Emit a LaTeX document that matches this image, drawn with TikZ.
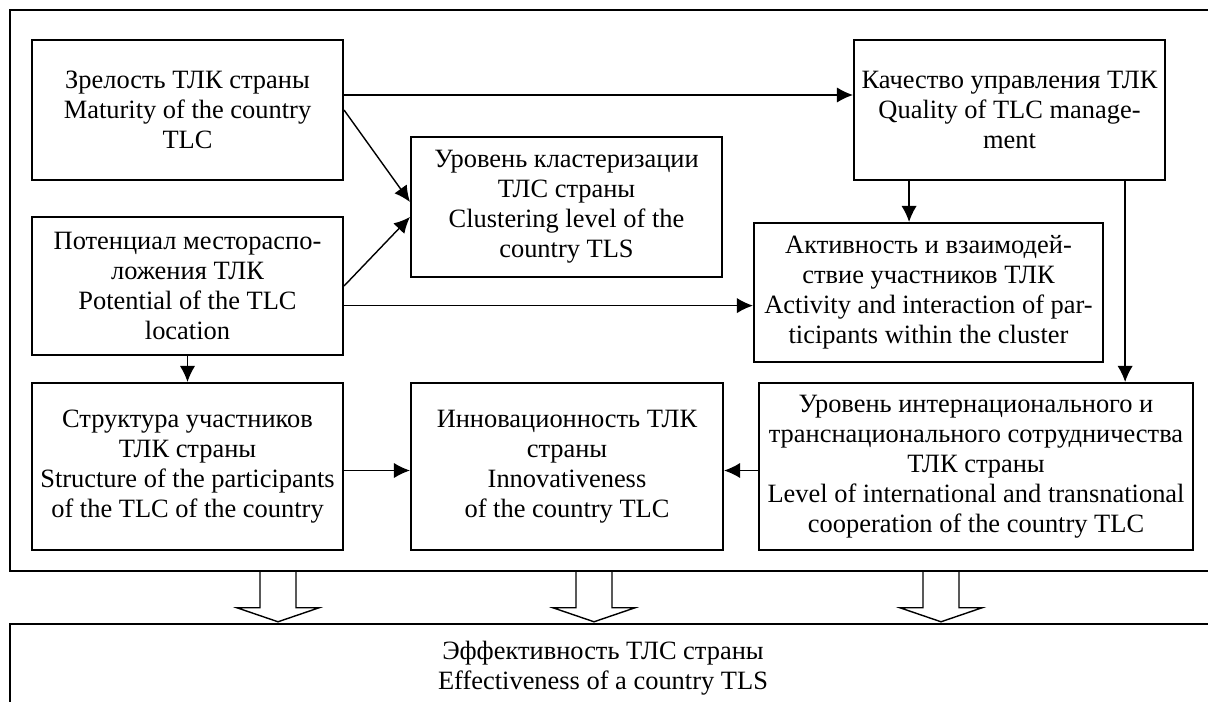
\documentclass[tikz,border=0pt]{standalone}
\usepackage{fontspec}
\setmainfont{Liberation Serif}
\usetikzlibrary{arrows.meta}
\tikzset{>={Latex[length=4mm,width=3.8mm]}}
\tikzset{box/.style={draw, line width=1.4pt, align=center, inner sep=0pt,
    font=\fontsize{18.8}{21.4}\selectfont}}
\tikzset{link/.style={->, line width=1pt}}
\tikzset{frame/.style={draw, line width=1pt, inner sep=0pt}}
\tikzset{hollow/.style={line width=1pt, line join=miter}}

\begin{document}
\begin{tikzpicture}[x=0.025cm, y=-0.025cm]
\useasboundingbox (0,0) rectangle (1208,702);
\clip (0,0) rectangle (1208,702);

\node[frame, minimum width=30.125cm, minimum height=14.025cm] (frame) at (612.5,290.5) {};
\node[frame, minimum width=30.125cm, minimum height=2.2cm] (base) at (612.5,668) {};

\node[box, minimum width=7.775cm, minimum height=3.5cm] (mat) at (187.5,110)
    {Зрелость ТЛК страны\\Maturity of the country\\TLC};
\node[box, minimum width=7.775cm, minimum height=3.45cm] (pot) at (187.5,286)
    {Потенциал местораспо-\\ложения ТЛК\\Potential of the TLC\\location};
\node[box, minimum width=7.775cm, minimum height=3.5cm] (clu) at (566.5,207)
    {Уровень кластеризации\\ТЛС страны\\Clustering level of the\\country TLS};
\node[box, minimum width=7.775cm, minimum height=3.5cm] (qua) at (1009.5,110)
    {Качество управления ТЛК\\Quality of TLC manage-\\ment};
\node[box, minimum width=8.725cm, minimum height=3.475cm] (act) at (928.5,292.5)
    {Активность и взаимодей-\\ствие участников ТЛК\\Activity and interaction of par-\\ticipants within the cluster};
\node[box, minimum width=7.775cm, minimum height=4.175cm] (str) at (187.5,466.5)
    {Структура участников\\ТЛК страны\\Structure of the participants\\of the TLC of the country};
\node[box, minimum width=7.8cm, minimum height=4.175cm] (inn) at (567,466.5)
    {Инновационность ТЛК\\страны\\Innovativeness\\of the country TLC};
\node[box, minimum width=10.85cm, minimum height=4.175cm] (lev) at (976,466.5)
    {Уровень интернационального и\\транснационального сотрудничества\\ТЛК страны\\Level of international and transnational\\cooperation of the country TLC};
\node[box, draw=none] (eff) at (603,668)
    {Эффективность ТЛС страны\\Effectiveness of a country TLS};

\draw[link] ([yshift=0.375cm]mat.east) -- ([yshift=0.375cm]mat.east -| qua.west);
\draw[link] (mat.east) -- ([yshift=0.125cm]clu.west);
\draw[link] (pot.east) -- ([yshift=-0.25cm]clu.west);
\draw[link] ([yshift=-0.49cm]pot.east) -- ([yshift=-0.49cm]pot.east -| act.west);
\draw[link] ([xshift=-2.51cm]qua.south) -- ([xshift=-2.51cm]qua.south |- act.north);
\draw[link] ([xshift=2.89cm]qua.south) -- ([xshift=2.89cm]qua.south |- lev.north);
\draw[link] (pot.south) -- (str.north);
\draw[link] ([yshift=-0.1cm]str.east) -- ([yshift=-0.1cm]inn.west);
\draw[link] ([yshift=-0.1cm]lev.west) -- ([yshift=-0.1cm]inn.east);

\foreach \x in {278,594,941}
  \draw[hollow] (\x,0 |- frame.south) ++(-18,0) -- ++(0,36) -- ++(-23,0)
    -- ++(41,14) -- ++(41,-14) -- ++(-23,0) -- ++(0,-36);

\end{tikzpicture}
\end{document}
